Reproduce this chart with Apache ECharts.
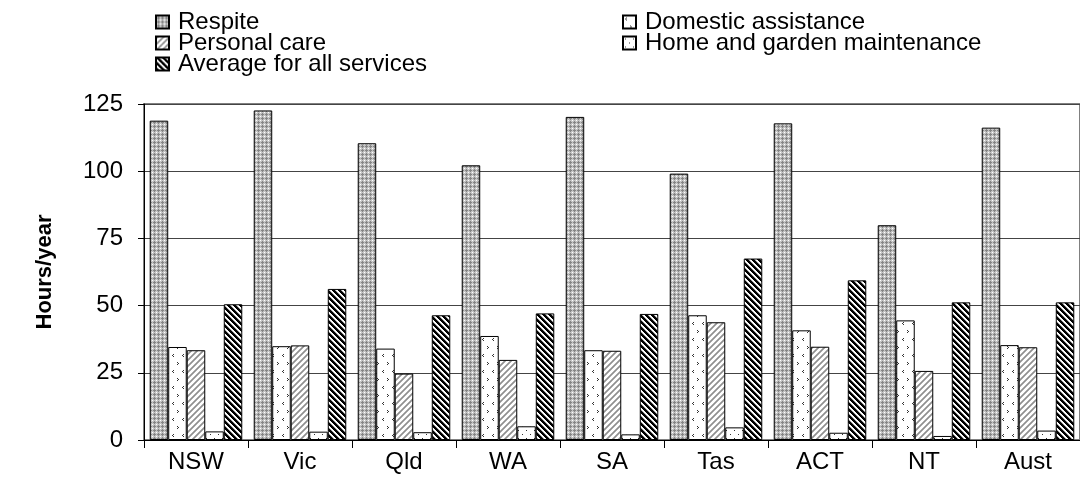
<!DOCTYPE html>
<html>
<head>
<meta charset="utf-8">
<script src="https://cdn.jsdelivr.net/npm/echarts@6/dist/echarts.min.js"></script>
<style>
  html, body { margin: 0; padding: 0; background: #fff; }
  #box { width: 1080px; height: 488px; }
</style>
</head>
<body>
<div id="box"></div>
<script>
const categories = ['NSW', 'Vic', 'Qld', 'WA', 'SA', 'Tas', 'ACT', 'NT', 'Aust'];
const respite = [118.8, 122.6, 110.4, 102.2, 120.2, 99.1, 117.8, 79.9, 116.2];
const domestic = [34.6, 34.9, 34.0, 38.7, 33.4, 46.4, 40.8, 44.5, 35.3];
const personal = [33.4, 35.2, 24.7, 29.8, 33.2, 43.8, 34.7, 25.7, 34.5];
const home = [3.2, 3.1, 2.9, 5.1, 2.1, 4.7, 2.7, 1.5, 3.5];
const average = [50.5, 56.2, 46.4, 47.1, 46.9, 67.5, 59.4, 51.2, 51.2];
const yTicks = [0, 25, 50, 75, 100, 125];

const font = '"Liberation Sans", Arial, sans-serif';

// small canvas tiles used as fill patterns
function tile(w, h, draw) {
  const c = document.createElement('canvas');
  c.width = w; c.height = h;
  const ctx = c.getContext('2d');
  ctx.fillStyle = '#fff';
  ctx.fillRect(0, 0, w, h);
  draw(ctx);
  return { image: c, repeat: 'repeat' };
}
function px(ctx, col, x, y) { ctx.fillStyle = col; ctx.fillRect(x, y, 1, 1); }

const patRespite = tile(4, 4, ctx => {
  ctx.fillStyle = '#c4c4c4'; ctx.fillRect(0, 0, 4, 4);
  px(ctx, '#ffffff', 0, 0);
  [[2, 1], [1, 2], [2, 2], [3, 2], [2, 3]].forEach(p => px(ctx, '#858585', p[0], p[1]));
});
const patDomestic = tile(10, 16, ctx => {
  const c = '#333';
  px(ctx, c, 3, 2); px(ctx, c, 2, 3); px(ctx, c, 3, 4);
  px(ctx, c, 7, 10); px(ctx, c, 8, 11); px(ctx, c, 7, 12);
});
const patPersonal = tile(6, 6, ctx => {
  for (let x = 0; x < 6; x++) for (let y = 0; y < 6; y++) {
    const k = (x + y) % 6;
    if (k < 3) px(ctx, k === 1 ? '#8f8f8f' : '#b0b0b0', x, y);
  }
});
const patHome = tile(8, 8, ctx => {
  px(ctx, '#333', 2, 2); px(ctx, '#333', 6, 6);
});
const patAverage = tile(6, 6, ctx => {
  for (let x = 0; x < 6; x++) for (let y = 0; y < 6; y++) {
    const k = ((x - y) % 6 + 6) % 6;
    if (k < 3) px(ctx, '#000', x, y);
    else if (k === 3) px(ctx, '#9a9a9a', x, y);
  }
});

function bar(name, data, pat) {
  return {
    name: name,
    type: 'bar',
    data: data,
    barGap: 0,
    barCategoryGap: '11%',
    itemStyle: { color: pat, borderColor: '#000', borderWidth: 1 },
    emphasis: { disabled: true }
  };
}

const chart = echarts.init(document.getElementById('box'), null, { renderer: 'canvas' });
const legendCommon = {
  orient: 'vertical',
  top: 5,
  itemWidth: 13,
  itemHeight: 13,
  itemGap: -3,
  icon: 'rect',
  selectedMode: false,
  textStyle: { fontFamily: font, fontSize: 24, color: '#000', lineHeight: 20, padding: [0, 0, 0, 4] }
};
chart.setOption({
  animation: false,
  backgroundColor: '#fff',
  textStyle: { fontFamily: font },
  legend: [
    Object.assign({}, legendCommon, { left: 150, data: ['Respite', 'Personal care', 'Average for all services'] }),
    Object.assign({}, legendCommon, { left: 617, data: ['Domestic assistance', 'Home and garden maintenance'] })
  ],
  grid: { left: 144, top: 104, bottom: 48, width: 945, show: true, borderColor: '#808080', borderWidth: 2 },
  xAxis: {
    type: 'category',
    data: categories,
    axisLine: { lineStyle: { color: '#000', width: 1 } },
    axisTick: { show: true, length: 8, lineStyle: { color: '#000' } },
    axisLabel: { color: '#000', fontSize: 24, fontFamily: font, margin: 10 }
  },
  yAxis: {
    type: 'value',
    min: yTicks[0],
    max: yTicks[yTicks.length - 1],
    interval: 25,
    name: 'Hours/year',
    nameLocation: 'middle',
    nameGap: 88,
    nameTextStyle: { fontFamily: font, fontSize: 22, fontWeight: 'bold', color: '#000' },
    axisLine: { show: true, lineStyle: { color: '#000', width: 1 } },
    axisTick: { show: true, length: 6, lineStyle: { color: '#000' } },
    axisLabel: { color: '#000', fontSize: 24, fontFamily: font, margin: 21 },
    splitLine: { lineStyle: { color: '#444', width: 1 } }
  },
  series: [
    bar('Respite', respite, patRespite),
    bar('Domestic assistance', domestic, patDomestic),
    bar('Personal care', personal, patPersonal),
    bar('Home and garden maintenance', home, patHome),
    bar('Average for all services', average, patAverage)
  ]
});
</script>
</body>
</html>
